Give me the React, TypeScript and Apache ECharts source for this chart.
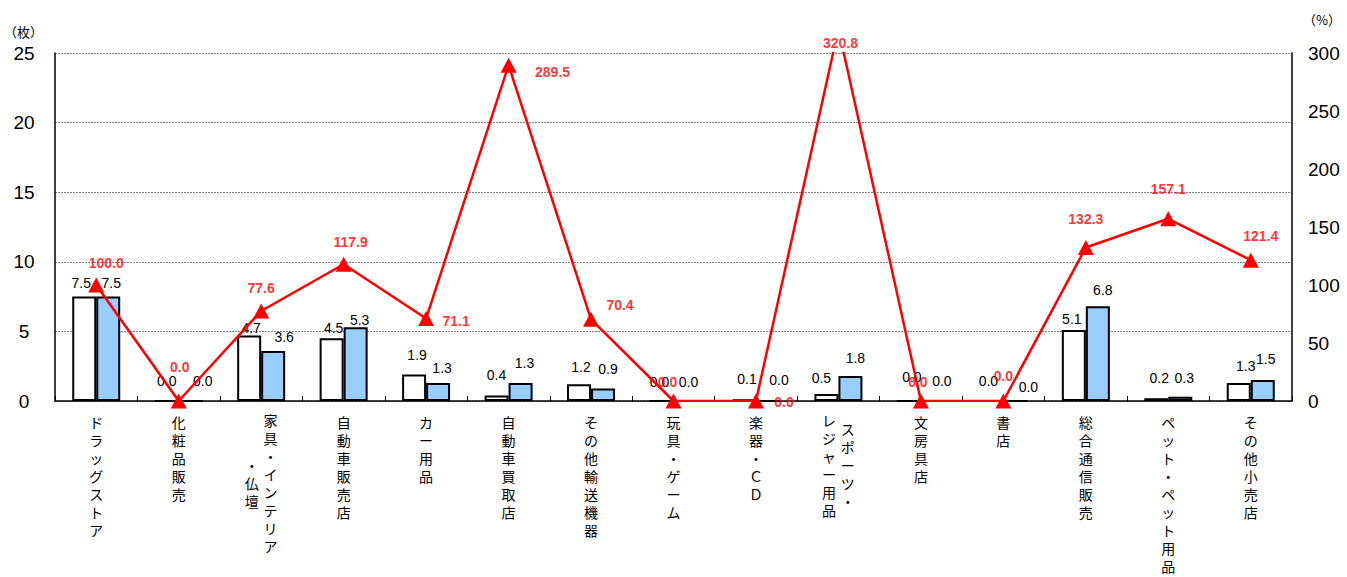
import { useEffect, useRef } from "react";
import * as echarts from "echarts";

// ---- data ----
const categories = [
  "ドラッグストア",
  "化粧品販売",
  "家具・インテリア・仏壇",
  "自動車販売店",
  "カー用品",
  "自動車買取店",
  "その他輸送機器",
  "玩具・ゲーム",
  "楽器・ＣＤ",
  "スポーツ・レジャー用品",
  "文房具店",
  "書店",
  "総合通信販売",
  "ペット・ペット用品",
  "その他小売店",
];
const prevValues = [7.5, 0.0, 4.7, 4.5, 1.9, 0.4, 1.2, 0.0, 0.1, 0.5, 0.0, 0.0, 5.1, 0.2, 1.3];
const currValues = [7.5, 0.0, 3.6, 5.3, 1.3, 1.3, 0.9, 0.0, 0.0, 1.8, 0.0, 0.0, 6.8, 0.3, 1.5];
const ratioValues = [100.0, 0.0, 77.6, 117.9, 71.1, 289.5, 70.4, 0.0, 0.0, 320.8, 0.0, 0.0, 132.3, 157.1, 121.4];
const leftTicks = { min: 0, max: 25, interval: 5 };
const rightTicks = { min: 0, max: 300, interval: 50 };

// ---- label placement (style) ----
const prevLabelOffsets = [[-3, -14], [0, -19], [2, -8], [2, -10], [3, -20], [0, -20], [2, -17], [-2, -18], [3, -20], [-5, -16], [3, -23], [-3, -19], [-2, -11], [3, -20], [7, -17]];
const currLabelOffsets = [[3, -14], [12, -19], [11, -14], [4, -7], [4, -15], [4, -20], [5, -19], [3, -18], [11, -20], [5, -18], [9, -19], [13, -13], [5, -16], [4, -19], [3, -21]];
const ratioLabelOffsets = [[10, -22], [1, -34], [0, -23], [7, -22], [30, 2], [44, 7], [29, -14], [-6, -19], [28, 1], [2, -10], [-3, -19], [0, -25], [0, -29], [0, -30], [10, -24]];

// two-column vertical labels: right column first (vertical writing), rows in half-line units
const twoColumn: Record<string, { right: string; rightStart: number; left: string; leftStart: number }> = {
  "家具・インテリア・仏壇": { right: "家具・インテリア", rightStart: 0, left: "・仏壇", leftStart: 5 },
  "スポーツ・レジャー用品": { right: "スポーツ・", rightStart: 1, left: "レジャー用品", leftStart: 0 },
};

const SEP = "\u2004";
const BLANK = "\u3000";

function verticalLabel(name: string): string {
  const spec = twoColumn[name];
  if (!spec) {
    return "{one|" + Array.from(name).join("\n") + "}";
  }
  const r = Array.from(spec.right);
  const l = Array.from(spec.left);
  const rows = Math.max(spec.rightStart + 2 * r.length - 1, spec.leftStart + 2 * l.length - 1);
  const lines: string[] = [];
  for (let i = 0; i < rows; i++) {
    let rc = "";
    let lc = "";
    if (i >= spec.rightStart && (i - spec.rightStart) % 2 === 0) rc = r[(i - spec.rightStart) / 2] || "";
    if (i >= spec.leftStart && (i - spec.leftStart) % 2 === 0) lc = l[(i - spec.leftStart) / 2] || "";
    if (!rc && !lc) lines.push("");
    else lines.push((lc || BLANK) + SEP + (rc || BLANK));
  }
  return "{two|" + lines.join("\n") + "}";
}

const NUM_FONT = "'Liberation Sans', Arial, sans-serif";
const JP_FONT = "'Noto Sans CJK JP', sans-serif";
const RED = "#ff0000";

export default function App() {
  const ref = useRef<HTMLDivElement>(null);
  useEffect(() => {
    if (!ref.current) return;
    const chart = echarts.init(ref.current, undefined, { renderer: "svg" });
    chart.setOption({
      animation: false,
      backgroundColor: "#ffffff",
      grid: { left: 55, right: 55, top: 53, bottom: 176, containLabel: false },
      graphic: [
        { type: "text", left: 4, top: 25, style: { text: "（枚）", font: `13px ${JP_FONT}`, fill: "#000" } },
        { type: "text", left: 1303, top: 13, style: { text: "（%）", font: `13px ${JP_FONT}`, fill: "#000" } },
      ],
      xAxis: {
        type: "category",
        data: categories,
        boundaryGap: true,
        axisLine: { show: true, lineStyle: { color: "#000", width: 1.5 } },
        axisTick: { show: true, inside: true, length: 5, lineStyle: { color: "#000" } },
        axisLabel: {
          interval: 0,
          hideOverlap: false,
          margin: 12,
          color: "#000",
          fontFamily: JP_FONT,
          fontSize: 14,
          align: "center",
          verticalAlign: "top",
          formatter: (v: string) => verticalLabel(v),
          rich: {
            one: { fontFamily: JP_FONT, fontSize: 14, lineHeight: 18, color: "#000", align: "center" },
            two: { fontFamily: JP_FONT, fontSize: 14, lineHeight: 9, color: "#000", align: "center", padding: [4, 0, 0, 0] },
          },
        },
        splitLine: { show: false },
      },
      yAxis: [
        {
          type: "value",
          min: leftTicks.min,
          max: leftTicks.max,
          interval: leftTicks.interval,
          axisLine: { show: true, lineStyle: { color: "#000", width: 1.5 } },
          axisTick: { show: false },
          axisLabel: { margin: 31, align: "center", color: "#000", fontFamily: NUM_FONT, fontSize: 19 },
          splitLine: { show: true, lineStyle: { color: "#808080", type: [2, 1], width: 1 } },
        },
        {
          type: "value",
          min: rightTicks.min,
          max: rightTicks.max,
          interval: rightTicks.interval,
          position: "right",
          axisLine: { show: true, lineStyle: { color: "#000", width: 1.5 } },
          axisTick: { show: false },
          axisLabel: { margin: 16, align: "left", color: "#000", fontFamily: NUM_FONT, fontSize: 19 },
          splitLine: { show: false },
        },
      ],
      series: [
        {
          name: "前年",
          type: "bar",
          yAxisIndex: 0,
          barWidth: 24,
          barGap: "0%",
          itemStyle: { color: "#ffffff", borderColor: "#000", borderWidth: 2 },
          label: {
            show: true,
            position: "top",
            distance: 0,
            align: "center",
            verticalAlign: "middle",
            color: "#000",
            fontFamily: NUM_FONT,
            fontSize: 14,
            formatter: (p: any) => Number(p.value).toFixed(1),
          },
          data: prevValues.map((v, i) => ({ value: v, label: { offset: prevLabelOffsets[i] } })),
          z: 2,
        },
        {
          name: "当年",
          type: "bar",
          yAxisIndex: 0,
          barWidth: 24,
          barGap: "0%",
          itemStyle: { color: "#99ccff", borderColor: "#000", borderWidth: 2 },
          label: {
            show: true,
            position: "top",
            distance: 0,
            align: "center",
            verticalAlign: "middle",
            color: "#000",
            fontFamily: NUM_FONT,
            fontSize: 14,
            formatter: (p: any) => Number(p.value).toFixed(1),
          },
          data: currValues.map((v, i) => ({ value: v, label: { offset: currLabelOffsets[i] } })),
          z: 2,
        },
        {
          name: "前年比",
          type: "line",
          yAxisIndex: 1,
          data: ratioValues,
          clip: true,
          symbol: "triangle",
          symbolSize: [16, 15],
          lineStyle: { color: RED, width: 2.5 },
          itemStyle: { color: RED },
          label: { show: false },
          z: 3,
        },
        {
          name: "前年比ラベル",
          type: "scatter",
          yAxisIndex: 1,
          clip: false,
          silent: true,
          symbol: "circle",
          symbolSize: 1,
          itemStyle: { color: "rgba(0,0,0,0)" },
          label: {
            show: true,
            position: "inside",
            align: "center",
            verticalAlign: "middle",
            color: RED,
            fontFamily: NUM_FONT,
            fontWeight: "bold",
            fontSize: 14,
            formatter: (p: any) => ratioValues[p.dataIndex].toFixed(1),
          },
          data: ratioValues.map((v, i) => ({
            value: Math.min(v, rightTicks.max),
            label: { offset: ratioLabelOffsets[i] },
          })),
          z: 4,
        },
      ],
    });
    return () => chart.dispose();
  }, []);
  return (
    <div
      ref={ref}
      style={{ position: "fixed", left: 0, top: 0, width: 1347, height: 577, background: "#fff" }}
    />
  );
}
